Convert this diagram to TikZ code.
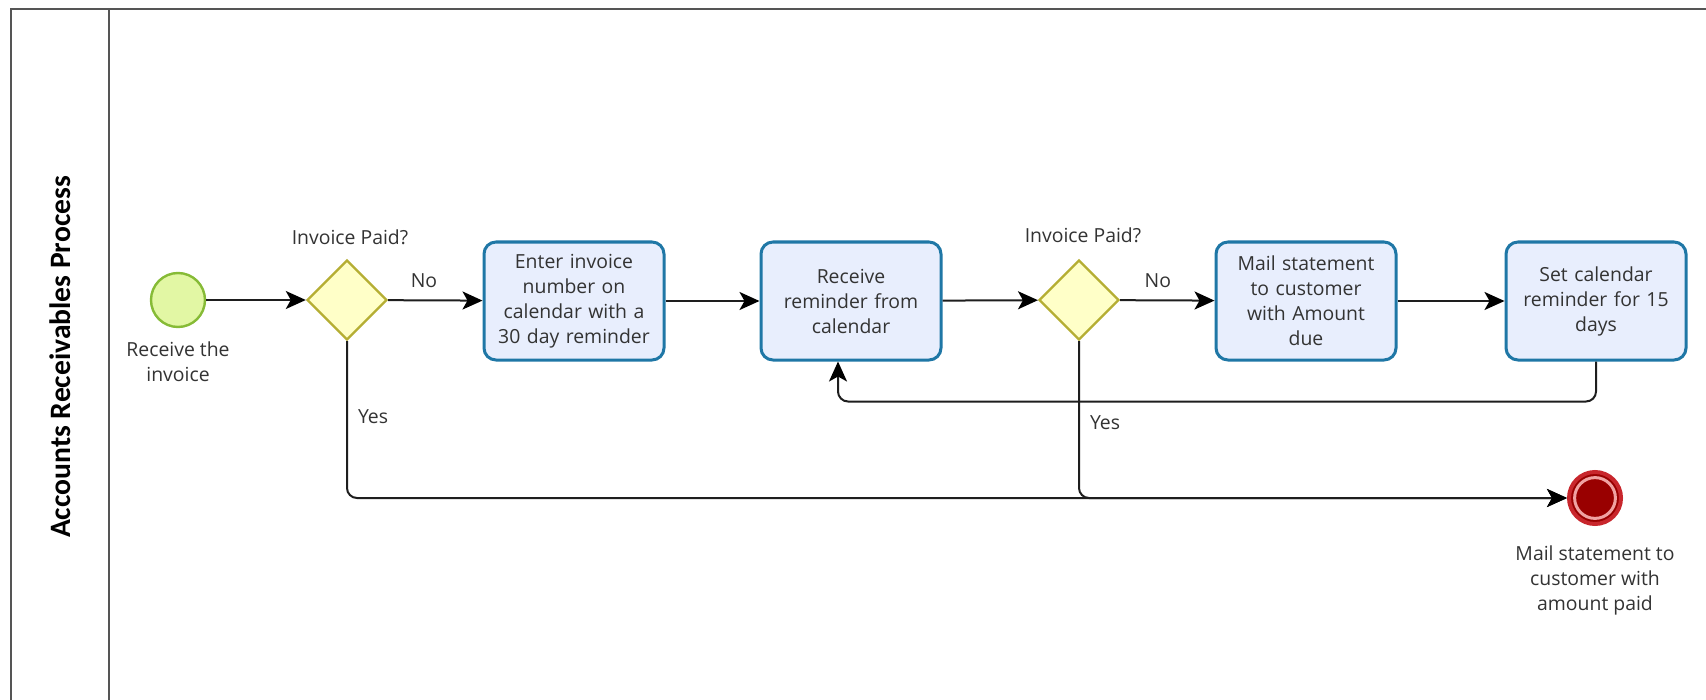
\documentclass[tikz,border=0pt]{standalone}
\usepackage{fontspec}
\setmainfont{Open Sans}
\newfontfamily\lanefont{Carlito}
\usetikzlibrary{shapes.geometric,arrows.meta,calc}

\definecolor{poolline}{HTML}{555555}
\definecolor{ink}{HTML}{333333}
\definecolor{flowline}{HTML}{1E1E1E}
\definecolor{startfill}{HTML}{E2F7A4}
\definecolor{startdraw}{HTML}{86BB36}
\definecolor{gwfill}{HTML}{FFFFC8}
\definecolor{gwdraw}{HTML}{B5AE33}
\definecolor{taskfill}{HTML}{E8EEFD}
\definecolor{taskdraw}{HTML}{1F77A6}
\definecolor{endfill}{HTML}{990000}
\definecolor{enddraw}{HTML}{C8262C}
\definecolor{endpink}{HTML}{F0A2A2}

\tikzset{
  pool/.style={draw=poolline, line width=1pt},
  txt/.style={text=ink, font=\fontsize{9.7}{12.5}\selectfont, align=center, inner sep=0pt},
  startev/.style={circle, minimum size=27pt, inner sep=0pt, fill=startfill, draw=startdraw, line width=1.2pt},
  endev/.style={circle, minimum size=26pt, inner sep=0pt, fill=endfill, draw=enddraw, line width=2pt},
  gateway/.style={diamond, aspect=1, minimum width=40pt, minimum height=40pt, inner sep=0pt,
                  fill=gwfill, draw=gwdraw, line width=1.2pt},
  task/.style={rectangle, rounded corners=6pt, minimum width=90pt, minimum height=59pt,
               text width=84pt, align=center, inner sep=0pt, fill=taskfill, draw=taskdraw,
               line width=1.5pt, text=ink, font=\fontsize{9.7}{12.5}\selectfont},
  flow/.style={draw=flowline, line width=1pt, rounded corners=5pt,
               -{Stealth[length=10pt, width=9pt, inset=2.5pt, color=black]}},
}

\begin{document}
\begin{tikzpicture}[x=0.5pt, y=-0.5pt]
\useasboundingbox (0,0) rectangle (1706,700);
\fill[white] (0,0) rectangle (1706,700);

% pool and lane header
\draw[pool] (11,700) -- (11,9) -- (1706,9);
\draw[pool] (109,9) -- (109,700);
\node[rotate=90, text=black, font=\lanefont\bfseries\fontsize{14.8}{16}\selectfont] (lane) at (60,357) {Accounts Receivables Process};

% events, gateways and tasks
\node[startev] (start) at (178,300) {};
\node[txt] (startlbl) at (178,362) {Receive the\\invoice};

\node[gateway] (gw1) at (347,300) {};
\node[txt] (gw1lbl) at (350,237) {Invoice Paid?};

\node[task] (t1) at (574,301) {Enter invoice\\number on\\calendar with a\\30 day reminder};
\node[task] (t2) at (851,301) {Receive\\reminder from\\calendar};

\node[gateway] (gw2) at (1079,300) {};
\node[txt] (gw2lbl) at (1083,235) {Invoice Paid?};

\node[task] (t3) at (1306,301) {Mail statement\\to customer\\with Amount\\due};
\node[task] (t4) at (1596,301) {Set calendar\\reminder for 15\\days};

\node[endev] (end) at (1595,498) {};
\draw[endpink, line width=1.5pt] (end.center) circle (10.2pt);
\node[txt] (endlbl) at (1595,580) {Mail statement to\\customer with\\amount paid};

% sequence flows
\draw[flow] (start) -- (gw1);
\draw[flow] (gw1) -- node[txt, pos=0.38, above=6pt] {No} (t1);
\draw[flow] (t1) -- (t2);
\draw[flow] (t2) -- (gw2);
\draw[flow] (gw2) -- node[txt, pos=0.4, above=6pt] {No} (t3);
\draw[flow] (t3) -- (t4);

% reminder loop back to the calendar task
\coordinate (loopin) at ($(t2.south)+(-13,0)$);
\draw[flow] (t4.south) |- ($(loopin)+(0,40)$) -- (loopin);

% paid branches to the end event
\draw[flow] (gw1.south) |- node[txt, pos=0.24, right=5pt] {Yes} (end.west);
\draw[flow] (gw2.south) |- node[txt, pos=0.26, right=5pt] {Yes} (end.west);
\end{tikzpicture}
\end{document}
